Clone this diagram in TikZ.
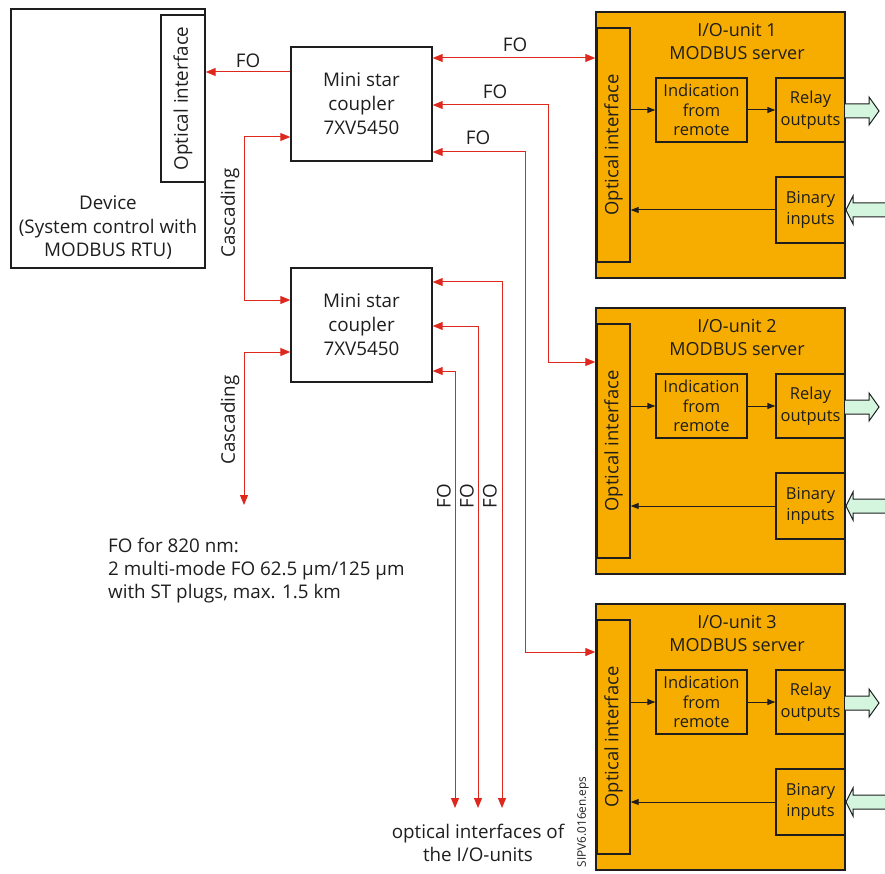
\documentclass[tikz,border=0pt]{standalone}
\usepackage{fontspec}
\setmainfont{Open Sans}
\usetikzlibrary{arrows.meta,calc}
\definecolor{txt}{RGB}{30,30,30}
\definecolor{fored}{RGB}{222,40,30}
\definecolor{siorange}{RGB}{247,173,0}
\definecolor{lgreen}{RGB}{212,245,222}
\tikzset{
  x=1pt,y=-1pt,
  every node/.style={text=txt,font=\fontsize{18.8}{23.5}\selectfont},
  box/.style={draw=txt,line width=1.4pt,inner sep=0pt},
  obox/.style={box,fill=siorange},
  inner/.style={obox,align=center,font=\fontsize{16.5}{19.5}\selectfont},
  inner2/.style={obox,align=center,font=\fontsize{16.5}{21.5}\selectfont},
  fo/.style={draw=fored,line width=1pt,>={Triangle[length=10pt,width=8pt]},<->},
  foend/.style={draw=fored,line width=1pt,>={Triangle[length=10pt,width=8pt]},->},
  blk/.style={draw=txt,line width=1pt,>={Triangle[length=8pt,width=6pt]},->},
  garrow/.style={draw=txt,line width=1pt,fill=lgreen},
  lbl/.style={inner sep=0pt,align=center},
}
\begin{document}
\begin{tikzpicture}
\useasboundingbox (0,0) rectangle (885,874);
% Device
\node[box,minimum width=194,minimum height=259] (dev) at (108,138.5) {};
\node[box,minimum width=44,minimum height=167] (devopt) at (183,98.5) {};
\node[lbl,rotate=90] (devoptlbl) at (devopt) {Optical interface};
\node[lbl] (devlbl) at (108,228) {Device\\(System control with\\MODBUS RTU)};
% couplers
\node[box,minimum width=141,minimum height=114,align=center,font=\fontsize{18.8}{24}\selectfont] (c1) at (361.5,104) {Mini star\\coupler\\7XV5450};
\node[box,minimum width=141,minimum height=114,align=center,font=\fontsize{18.8}{24}\selectfont] (c2) at (361.5,325) {Mini star\\coupler\\7XV5450};
% I/O units
\foreach \i/\dy in {1/0,2/296,3/592}{
  \node[obox,minimum width=249,minimum height=266] (u\i) at (720.5,145+\dy) {};
  \node[obox,minimum width=33,minimum height=234] (uo\i) at (613.5,145+\dy) {};
  \node[lbl,rotate=90,font=\fontsize{18.4}{22}\selectfont] (uol\i) at (uo\i) {Optical interface};
  \node[lbl,font=\fontsize{18}{23}\selectfont] (ut\i) at (737,41.5+\dy) {I/O-unit \i\\MODBUS server};
  \node[inner,minimum width=91,minimum height=64] (ui\i) at (701.5,110+\dy) {Indication\\from\\remote};
  \node[inner2,minimum width=69,minimum height=64] (ur\i) at (810.5,110+\dy) {Relay\\outputs};
  \node[inner2,minimum width=69,minimum height=66] (ub\i) at (810.5,210+\dy) {Binary\\inputs};
  \draw[blk] (uo\i.east |- ui\i.west) -- (ui\i.west);
  \draw[blk] (ui\i.east) -- (ur\i.west);
  \draw[blk] (ub\i.west) -- (uo\i.east |- ub\i.west);
  \draw[garrow] (845,104+\dy) -- (869,104+\dy) -- (869,97+\dy) -- (879,111+\dy) -- (869,125+\dy) -- (869,118+\dy) -- (845,118+\dy);
  \draw[garrow] (888,203+\dy) -- (853,203+\dy) -- (853,196+\dy) -- (846,210+\dy) -- (853,224+\dy) -- (853,217+\dy) -- (888,217+\dy);
}
% FO connections
\draw[foend] (c1.west |- 0,72) -- (dev.east |- 0,72);
\node[lbl] (fo0) at (248,61) {FO};
\draw[fo] (c1.east |- 0,58) -- (u1.west |- 0,58);
\node[lbl] (fo1) at (515,45) {FO};
\coordinate (b2a) at (548,105);
\coordinate (b2b) at (548,362);
\draw[fo] (c1.east |- b2a) -- (b2a) -- (b2b) -- (u2.west |- b2b);
\node[lbl] (fo2) at (495,92) {FO};
\coordinate (b3a) at (525,152);
\coordinate (b3b) at (525,652);
\draw[fo] (c1.east |- b3a) -- (b3a) -- (b3b) -- (u3.west |- b3b);
\node[lbl] (fo3) at (478,138) {FO};
% cascading
\coordinate (ca) at (244,137);
\coordinate (cb) at (244,300);
\draw[fo] (c1.west |- ca) -- (ca) -- (cb) -- (c2.west |- cb);
\node[lbl,rotate=90] (cas1) at (230,213) {Cascading};
\coordinate (cc) at (244,352);
\coordinate (cd) at (244,505);
\draw[fo] (c2.west |- cc) -- (cc) -- (cd);
\node[lbl,rotate=90] (cas2) at (230,420) {Cascading};
% coupler 2 outputs
\foreach \k/\x/\y in {1/502/282,2/478/326,3/455/371}{
  \coordinate (d\k a) at (\x,\y);
  \coordinate (d\k b) at (\x,808);
  \draw[fo] (c2.east |- d\k a) -- (d\k a) -- (d\k b);
}
\node[lbl,rotate=90] (fo4) at (444,496) {FO};
\node[lbl,rotate=90] (fo5) at (467,496) {FO};
\node[lbl,rotate=90] (fo6) at (490,496) {FO};
% texts
\node[lbl,anchor=west,align=left,font=\fontsize{18.8}{23}\selectfont] (note) at (108,571) {FO for 820 nm:\\2 multi-mode FO 62.5 µm/125 µm\\with ST plugs, max. 1.5 km};
\node[lbl] (bottom) at (478,843) {optical interfaces of\\the I/O-units};
\node[lbl,rotate=90,font=\fontsize{11.8}{14}\selectfont] (eps) at (583,822) {SIPV6.016en.eps};
\end{tikzpicture}
\end{document}
